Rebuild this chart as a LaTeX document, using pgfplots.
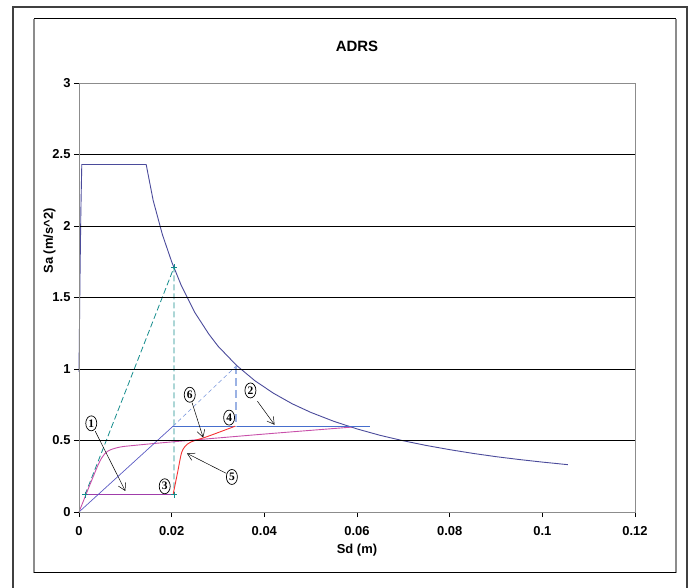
\documentclass[border=0pt]{standalone}
\usepackage{fontspec}
\setmainfont{Liberation Sans}
\newfontfamily\numfont{Liberation Serif}
\usepackage{pgfplots}
\pgfplotsset{compat=1.18}
\usetikzlibrary{arrows.meta,shapes.geometric}

\definecolor{demand}{RGB}{75,75,155}
\definecolor{capblue}{RGB}{70,110,205}
\definecolor{diagblue}{RGB}{90,90,195}
\definecolor{dashblue}{RGB}{120,150,220}
\definecolor{vdashblue}{RGB}{155,178,228}
\definecolor{magline}{RGB}{200,80,170}
\definecolor{purpline}{RGB}{160,60,170}
\definecolor{redline}{RGB}{245,50,50}
\definecolor{tealline}{RGB}{20,140,140}
\definecolor{axgray}{RGB}{140,140,140}

\tikzset{
  num/.style={draw, ellipse, line width=0.7bp, inner sep=0pt, minimum width=11bp, minimum height=15bp,
    font=\numfont\bfseries\fontsize{11.5}{12}\selectfont, fill=white},
  pt/.style={-{Straight Barb[length=7bp,width=8bp]}, line width=0.5bp, black}
}

\begin{document}
\begin{tikzpicture}
\useasboundingbox (0bp,0bp) rectangle (693bp,588bp);
% frames
\draw[line width=1.5bp, black!75] (13bp,-3bp) -- (13bp,581bp) -- (687bp,581bp) -- (687bp,-3bp);
\draw[line width=1.2bp, axgray] (34bp,15bp) -- (34bp,569bp);
\draw[line width=1.2bp, axgray] (676bp,15bp) -- (676bp,569bp);
\draw[line width=1bp, black] (34bp,569bp) -- (676bp,569bp);
\draw[line width=1bp, black] (34bp,15bp) -- (676bp,15bp);

\begin{axis}[
    at={(79bp,76bp)}, anchor=south west,
    scale only axis,
    width=556bp, height=429bp,
    xmin=0, xmax=0.12, ymin=0, ymax=3,
    xtick={0,0.02,0.04,0.06,0.08,0.1,0.12},
    ytick={0,0.5,1,1.5,2,2.5,3},
    scaled x ticks=false,
    /pgf/number format/fixed,
    /pgf/number format/precision=2,
    /pgf/number format/assume math mode=true,
    ticklabel style={font=\bfseries\fontsize{13}{15}\selectfont},
    xticklabel style={yshift=-6bp},
    tick align=outside,
    tick pos=left,
    major tick length=5bp,
    tick style={black, line width=0.6bp},
    axis line style={axgray, line width=0.8bp},
    ymajorgrids,
    major grid style={black, line width=0.8bp},
    axis on top,
    title={ADRS},
    title style={font=\bfseries\fontsize{15}{17}\selectfont, at={(axis description cs:0.5,1.072)}, anchor=center},
    xlabel={Sd (m)},
    ylabel={Sa (m/s\textasciicircum 2)},
    label style={font=\bfseries\fontsize{13}{15}\selectfont},
    xlabel style={at={(axis description cs:0.5,-0.089)}, anchor=center},
    ylabel style={at={(axis description cs:-0.053,0.632)}, anchor=center},
    clip=false,
]
% demand spectrum
\addplot[demand, line width=0.9bp] coordinates {
 (0,0.98) (0.0002,1.6) (0.0004,2.1) (0.0006,2.43) (0.0145,2.43) (0.016,2.18) (0.018,1.94)
 (0.020,1.75) (0.0205,1.71) (0.022,1.59) (0.025,1.395) (0.028,1.245) (0.030,1.16)
 (0.034,1.025) (0.038,0.917) (0.042,0.83) (0.046,0.757) (0.050,0.697) (0.055,0.634)
 (0.060,0.581) (0.065,0.536) (0.070,0.498) (0.075,0.465) (0.080,0.436) (0.085,0.41)
 (0.090,0.387) (0.095,0.367) (0.100,0.349) (0.1055,0.331)
};
% teal dashed triangle
\addplot[tealline, line width=0.8bp, dash pattern=on 6bp off 3bp, mark=+, mark size=3bp,
  mark options={solid, tealline}] coordinates {
 (0.0013,0.12) (0.0205,1.71) (0.0205,0.12)
};
% purple lower horizontal
\addplot[purpline, line width=0.8bp] coordinates {(0.0013,0.12) (0.0205,0.12)};
% magenta capacity curve
\addplot[magline, line width=0.9bp, smooth] coordinates {
 (0,0) (0.0040,0.32) (0.0055,0.405) (0.0068,0.435) (0.0090,0.455) (0.012,0.466)
 (0.020,0.49) (0.040,0.545) (0.059,0.594)
};
% blue bilinear
\addplot[diagblue, line width=0.7bp] coordinates {(0,0) (0.0203,0.6)};
\addplot[capblue, line width=0.8bp] coordinates {(0.0203,0.6) (0.0629,0.6)};
% blue dashed
\addplot[dashblue, line width=0.6bp, dash pattern=on 4bp off 3bp] coordinates {(0.0203,0.6) (0.0339,1.02)};
\addplot[vdashblue, line width=1.3bp, dash pattern=on 8bp off 4bp] coordinates {(0.0339,1.02) (0.0339,0.6)};
% red curve
\addplot[redline, line width=0.9bp, smooth] coordinates {
 (0.0203,0.12) (0.0213,0.28) (0.0222,0.42) (0.0234,0.475) (0.0250,0.5) (0.0272,0.522)
 (0.0300,0.555) (0.0337,0.6)
};
% annotations
\draw[pt] (axis cs:0.0035,0.565) -- (axis cs:0.0100,0.147);
\draw[pt] (axis cs:0.0385,0.775) -- (axis cs:0.0422,0.61);
\draw[pt] (axis cs:0.0318,0.27) -- (axis cs:0.0233,0.41);
\draw[pt] (axis cs:0.0244,0.765) -- (axis cs:0.0268,0.52);
\node[num] at (axis cs:0.00265,0.62) {1};
\node[num] at (axis cs:0.0370,0.85) {2};
\node[num] at (axis cs:0.0185,0.18) {3};
\node[num] at (axis cs:0.0324,0.66) {4};
\node[num] at (axis cs:0.0330,0.245) {5};
\node[num] at (axis cs:0.0239,0.82) {6};
\end{axis}
\end{tikzpicture}
\end{document}
